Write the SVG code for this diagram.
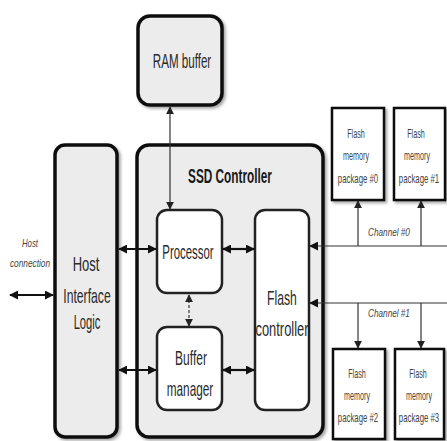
<svg xmlns="http://www.w3.org/2000/svg" width="447" height="441" viewBox="0 0 447 441">
<defs>
<style>
.box{fill:#ececec;stroke:#111;stroke-width:3.5}
.inner{fill:#fff;stroke:#222;stroke-width:2.5}
.pkg{fill:#fff;stroke:#111;stroke-width:2.5}
.t{font-family:"Liberation Sans",Arial,sans-serif;fill:#2a2a2a;text-anchor:middle}
.big{font-size:20px}
.small{font-size:12px;fill:#444}
.it{font-style:italic;font-size:10px;fill:#444}
.b{font-weight:bold;font-size:20px;fill:#1a1a1a}
.ln{stroke:#111;stroke-width:2.2;fill:none}
.thin{stroke:#333;stroke-width:1.2;fill:none}
</style>
<filter id="sh" x="-20%" y="-20%" width="140%" height="140%">
<feDropShadow dx="2" dy="2" stdDeviation="1.5" flood-color="#000" flood-opacity="0.35"/>
</filter>
<marker id="ah" viewBox="0 0 10 10" refX="9" refY="5" markerWidth="9" markerHeight="9" orient="auto-start-reverse" markerUnits="userSpaceOnUse">
<path d="M0,0 L10,5 L0,10 z" fill="#111"/>
</marker>
<marker id="as" viewBox="0 0 10 10" refX="9" refY="5" markerWidth="8" markerHeight="8" orient="auto-start-reverse" markerUnits="userSpaceOnUse">
<path d="M0,0 L10,5 L0,10 z" fill="#222"/>
</marker>
</defs>
<rect width="447" height="441" fill="#fff"/>

<g id="ram">
<rect class="box" x="138" y="16" width="84" height="89" rx="12" filter="url(#sh)"/>
<text class="t big" transform="translate(182,68) scale(0.58,1)">RAM buffer</text>
</g>

<g id="host">
<rect class="box" x="55" y="145" width="62" height="292" rx="10" filter="url(#sh)"/>
<text class="t big" transform="translate(86,271) scale(0.65,1)">Host</text>
<text class="t big" transform="translate(87,303) scale(0.61,1)">Interface</text>
<text class="t big" transform="translate(87,329) scale(0.56,1)">Logic</text>
</g>

<g id="ssd">
<rect class="box" x="137" y="145" width="186" height="292" rx="12" filter="url(#sh)"/>
<text class="t b" transform="translate(230,183) scale(0.59,1)">SSD Controller</text>
</g>

<g id="processor">
<rect class="inner" x="157" y="210" width="65" height="83" rx="10"/>
<text class="t big" transform="translate(188,259) scale(0.57,1)">Processor</text>
</g>

<g id="buffer">
<rect class="inner" x="157" y="327" width="65" height="83" rx="10"/>
<text class="t big" transform="translate(191,365) scale(0.6,1)">Buffer</text>
<text class="t big" transform="translate(190,396) scale(0.59,1)">manager</text>
</g>

<g id="flashctl">
<rect class="inner" x="255" y="210" width="54" height="200" rx="10"/>
<text class="t big" transform="translate(282,305) scale(0.61,1)">Flash</text>
<text class="t big" transform="translate(282,336) scale(0.645,1)">controller</text>
</g>

<g id="pkg0">
<rect class="pkg" x="332" y="108" width="52" height="92" filter="url(#sh)"/>
<text class="t small" transform="translate(356,138) scale(0.6,1)">Flash</text>
<text class="t small" transform="translate(356,160) scale(0.6,1)">memory</text>
<text class="t small" transform="translate(358,183) scale(0.65,1)">package #0</text>
</g>
<g id="pkg1">
<rect class="pkg" x="394" y="108" width="51" height="92" filter="url(#sh)"/>
<text class="t small" transform="translate(416,138) scale(0.6,1)">Flash</text>
<text class="t small" transform="translate(417,160) scale(0.6,1)">memory</text>
<text class="t small" transform="translate(419,183) scale(0.65,1)">package #1</text>
</g>
<g id="pkg2">
<rect class="pkg" x="333" y="349" width="52" height="90" filter="url(#sh)"/>
<text class="t small" transform="translate(357,378) scale(0.6,1)">Flash</text>
<text class="t small" transform="translate(357,400) scale(0.6,1)">memory</text>
<text class="t small" transform="translate(358,422) scale(0.65,1)">package #2</text>
</g>
<g id="pkg3">
<rect class="pkg" x="395" y="349" width="49" height="90" filter="url(#sh)"/>
<text class="t small" transform="translate(418,378) scale(0.6,1)">Flash</text>
<text class="t small" transform="translate(419,400) scale(0.6,1)">memory</text>
<text class="t small" transform="translate(419,422) scale(0.65,1)">package #3</text>
</g>

<g id="connectors">
<line class="thin" x1="170" y1="107" x2="170" y2="209" marker-start="url(#as)" marker-end="url(#as)"/>
<line class="thin" x1="189" y1="295" x2="189" y2="326" stroke-dasharray="3,2" marker-start="url(#as)" marker-end="url(#as)"/>
<line class="ln" x1="10" y1="295" x2="53" y2="295" marker-start="url(#ah)" marker-end="url(#ah)"/>
<line class="ln" x1="119" y1="249" x2="156" y2="249" marker-start="url(#ah)" marker-end="url(#ah)"/>
<line class="ln" x1="119" y1="370" x2="156" y2="370" marker-start="url(#ah)" marker-end="url(#ah)"/>
<line class="ln" x1="223" y1="249" x2="254" y2="249" marker-start="url(#ah)" marker-end="url(#ah)"/>
<line class="ln" x1="223" y1="370" x2="254" y2="370" marker-start="url(#ah)" marker-end="url(#ah)"/>
<line class="thin" x1="447" y1="246" x2="310" y2="246" marker-end="url(#ah)"/>
<line class="thin" x1="358" y1="246" x2="358" y2="201" marker-end="url(#as)"/>
<line class="thin" x1="421" y1="246" x2="421" y2="201" marker-end="url(#as)"/>
<line class="thin" x1="447" y1="303" x2="310" y2="303" marker-end="url(#ah)"/>
<line class="thin" x1="358" y1="303" x2="358" y2="348" marker-end="url(#as)"/>
<line class="thin" x1="421" y1="303" x2="421" y2="348" marker-end="url(#as)"/>
<text class="t it" transform="translate(389,236) scale(0.82,1)">Channel #0</text>
<text class="t it" transform="translate(389,317) scale(0.82,1)">Channel #1</text>
<text class="t it" transform="translate(30,247) scale(0.78,1)">Host</text>
<text class="t it" transform="translate(30,267) scale(0.83,1)">connection</text>
</g>
</svg>
